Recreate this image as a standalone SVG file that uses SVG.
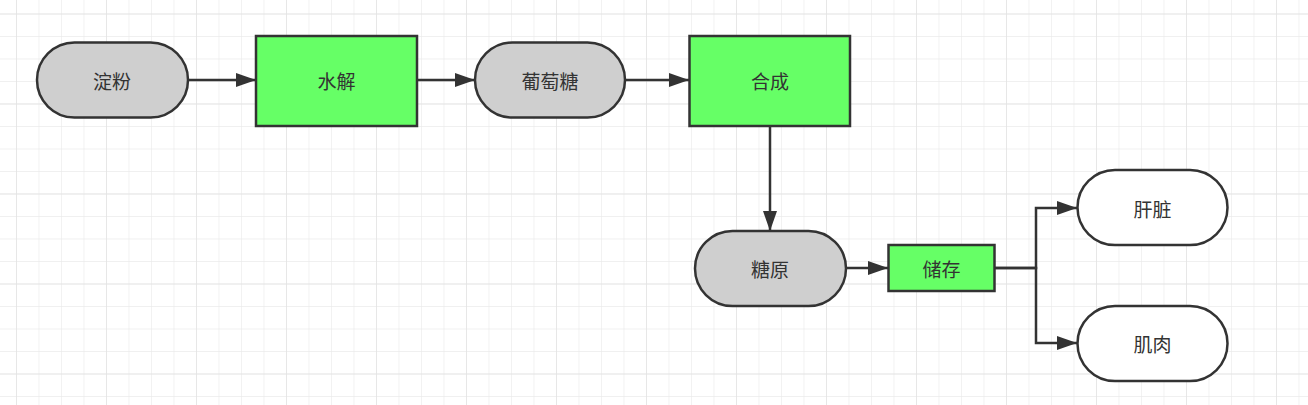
<svg xmlns="http://www.w3.org/2000/svg" width="1308" height="405" viewBox="0 0 1308 405">
<defs>
<pattern id="minor" x="16" y="13.5" width="22.5" height="22.5" patternUnits="userSpaceOnUse">
<path d="M0 0H22.5M0 0V22.5" fill="none" stroke="#ebebeb" stroke-width="1.3"/>
</pattern>
<pattern id="major" x="16" y="13.5" width="90" height="90" patternUnits="userSpaceOnUse">
<path d="M0 0H90M0 0V90" fill="none" stroke="#e2e2e2" stroke-width="1.3"/>
</pattern>
<marker id="arr" viewBox="0 0 20 14" refX="20" refY="7" markerWidth="20" markerHeight="14" markerUnits="userSpaceOnUse" orient="auto">
<path d="M0 0L20 7L0 14Z" fill="#333"/>
</marker>
</defs>
<style>
.term{fill:#cfcfcf;stroke:#333;stroke-width:2.5}
.white{fill:#fff;stroke:#333;stroke-width:2.5}
.proc{fill:#66ff66;stroke:#333;stroke-width:2.5}
.lbl{font-family:"Noto Sans CJK SC","Noto Sans",sans-serif;font-size:19px;fill:#333;text-anchor:middle;dominant-baseline:central}
.edge{fill:none;stroke:#333;stroke-width:2.5}
</style>
<rect width="1308" height="405" fill="#fff"/>
<rect width="1308" height="405" fill="url(#minor)"/>
<rect width="1308" height="405" fill="url(#major)"/>
<g id="connectors">
<path class="edge" d="M188 80H256" marker-end="url(#arr)"/>
<path class="edge" d="M417 80H475" marker-end="url(#arr)"/>
<path class="edge" d="M625 80H689" marker-end="url(#arr)"/>
<path class="edge" d="M770 126V231" marker-end="url(#arr)"/>
<path class="edge" d="M846 268H888" marker-end="url(#arr)"/>
<path class="edge" d="M995 268H1036V208H1077" marker-end="url(#arr)"/>
<path class="edge" d="M995 268H1036V343H1077" marker-end="url(#arr)"/>
</g>
<g id="n-dianfen"><rect class="term" x="37" y="42.5" width="151" height="75" rx="37.5"/><text class="lbl" x="112" y="80">淀粉</text></g>
<g id="n-shuijie"><rect class="proc" x="256" y="36" width="161" height="90"/><text class="lbl" x="336.5" y="80">水解</text></g>
<g id="n-putaotang"><rect class="term" x="475" y="42.5" width="150" height="75" rx="37.5"/><text class="lbl" x="550" y="80">葡萄糖</text></g>
<g id="n-hecheng"><rect class="proc" x="689.5" y="36" width="160.5" height="90"/><text class="lbl" x="770" y="80">合成</text></g>
<g id="n-tangyuan"><rect class="term" x="695" y="231" width="151" height="75" rx="37.5"/><text class="lbl" x="770" y="268">糖原</text></g>
<g id="n-chucun"><rect class="proc" x="888.5" y="245" width="106" height="46"/><text class="lbl" x="941.5" y="268">储存</text></g>
<g id="n-ganzang"><rect class="white" x="1077.5" y="170" width="150" height="75" rx="37.5"/><text class="lbl" x="1152.5" y="208">肝脏</text></g>
<g id="n-jirou"><rect class="white" x="1077.5" y="306" width="150" height="75" rx="37.5"/><text class="lbl" x="1152.5" y="343">肌肉</text></g>
</svg>
